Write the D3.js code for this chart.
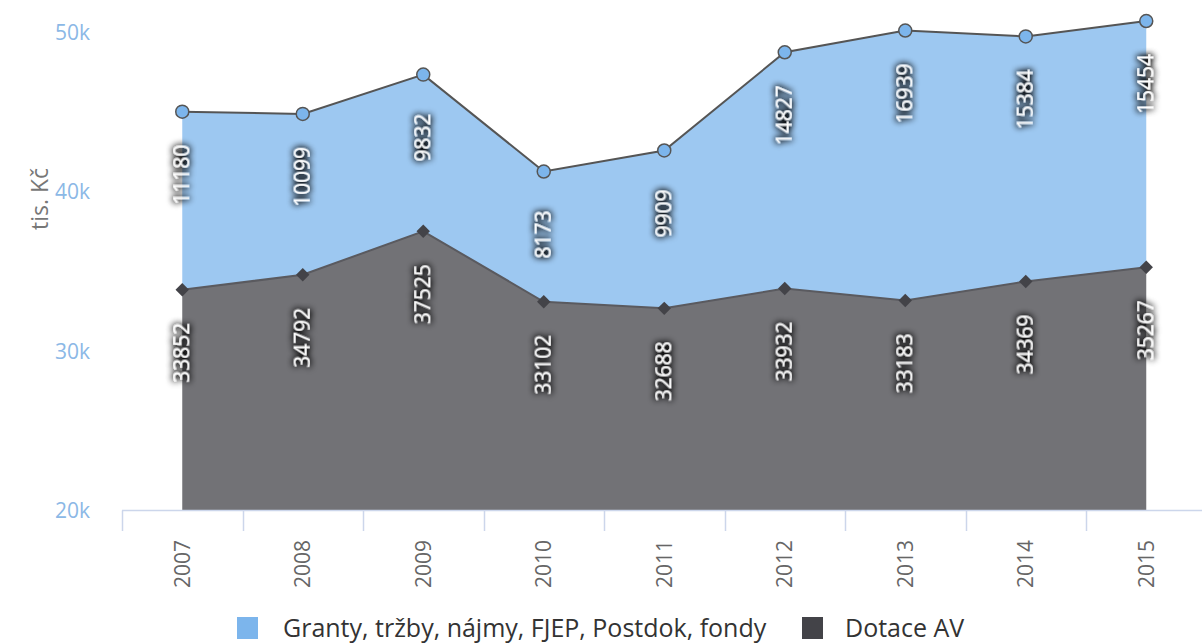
<!DOCTYPE html>
<html>
<head>
<meta charset="utf-8">
<script src="https://cdn.jsdelivr.net/npm/d3@7"></script>
<style>
  body { margin: 0; background: #fff; }
  svg { display: block; font-family: "Open Sans", sans-serif; }
</style>
</head>
<body>
<svg id="chart" width="1202" height="644"></svg>
<script>
const years = ["2007", "2008", "2009", "2010", "2011", "2012", "2013", "2014", "2015"];
const dotace = [33852, 34792, 37525, 33102, 32688, 33932, 33183, 34369, 35267];
const granty = [11180, 10099, 9832, 8173, 9909, 14827, 16939, 15384, 15454];
const yTicks = [20000, 30000, 40000, 50000];
const seriesNames = ["Granty, tržby, nájmy, FJEP, Postdok, fondy", "Dotace AV"];

const width = 1202, height = 644;
const svg = d3.select("#chart");

// soft dark glow behind the data labels
const defs = svg.append("defs");
const glow = defs.append("filter").attr("id", "shadow")
    .attr("x", "-50%").attr("y", "-50%").attr("width", "200%").attr("height", "200%");
glow.append("feGaussianBlur").attr("in", "SourceAlpha").attr("stdDeviation", 3.5).attr("result", "b");
glow.append("feComponentTransfer").attr("in", "b").attr("result", "c")
    .append("feFuncA").attr("type", "linear").attr("slope", 2.4);
const merge = glow.append("feMerge");
merge.append("feMergeNode").attr("in", "c");
merge.append("feMergeNode").attr("in", "SourceGraphic");

// Scales
const x = d3.scaleBand().domain(years).range([122, 1206.5]).padding(0);
const cx = d => x(d) + x.bandwidth() / 2;
const y = d3.scaleLinear().domain([20000, 50000]).range([510.5, 32.5]);

const rows = years.map((yr, i) => ({ year: yr, dotace: dotace[i], granty: granty[i] }));
const stacked = d3.stack().keys(["dotace", "granty"])(rows);

const area = d3.area()
    .x(d => cx(d.data.year))
    .y0(d => y(Math.max(d[0], 20000)))
    .y1(d => y(d[1]));
const line = d3.line()
    .x(d => cx(d.data.year))
    .y(d => y(d[1]));

const fills = { dotace: "#434348", granty: "#7cb5ec" };
const strokes = { dotace: "#5a5a5f", granty: "#555555" };

// areas
stacked.slice().reverse().forEach(s => {
    svg.append("path").datum(s)
        .attr("d", area)
        .attr("fill", fills[s.key])
        .attr("fill-opacity", 0.75);
});
stacked.forEach(s => {
    svg.append("path").datum(s)
        .attr("d", line)
        .attr("fill", "none")
        .attr("stroke", strokes[s.key])
        .attr("stroke-width", 2);
});

// x axis
svg.append("line")
    .attr("x1", 122).attr("x2", width)
    .attr("y1", 510.5).attr("y2", 510.5)
    .attr("stroke", "#ccd6eb").attr("stroke-width", 1.5);
svg.selectAll(".xtick").data(years).enter().append("line")
    .attr("x1", d => Math.round(x(d)) + 0.5).attr("x2", d => Math.round(x(d)) + 0.5)
    .attr("y1", 510.5).attr("y2", 531)
    .attr("stroke", "#ccd6eb").attr("stroke-width", 1.5);
svg.selectAll(".xlabel").data(years).enter().append("text")
    .attr("transform", d => `translate(${cx(d)},540) rotate(-90)`)
    .attr("text-anchor", "end")
    .attr("dy", "0.35em")
    .attr("font-size", 21)
    .attr("fill", "#666")
    .text(d => d);

// y axis labels
svg.selectAll(".ylabel").data(yTicks).enter().append("text")
    .attr("x", 90).attr("y", d => y(d))
    .attr("dy", "0.35em")
    .attr("text-anchor", "end")
    .attr("font-size", 21)
    .attr("fill", "#8bb8e6")
    .text(d => d3.format("d")(d / 1000) + "k");

svg.append("text")
    .attr("transform", "translate(40,199) rotate(-90)")
    .attr("text-anchor", "middle")
    .attr("dy", "0.35em")
    .attr("font-size", 23)
    .attr("fill", "#777")
    .text("tis. Kč");

// markers
const topSeries = stacked[1], baseSeries = stacked[0];
svg.selectAll(".dia").data(baseSeries).enter().append("path")
    .attr("d", d3.symbol().type(d3.symbolSquare).size(90))
    .attr("transform", d => `translate(${cx(d.data.year)},${y(d[1])}) rotate(45)`)
    .attr("fill", "#434348");
svg.selectAll(".dot").data(topSeries).enter().append("circle")
    .attr("cx", d => cx(d.data.year))
    .attr("cy", d => y(d[1]))
    .attr("r", 6.5)
    .attr("fill", "#7cb5ec")
    .attr("stroke", "#555")
    .attr("stroke-width", 1.5);

// data labels
function labels(s, key) {
    svg.selectAll(".lbl-" + key).data(s).enter().append("text")
        .attr("transform", d => `translate(${cx(d.data.year)},${y(d[1]) + 63}) rotate(-90)`)
        .attr("text-anchor", "middle")
        .attr("dy", "0.35em")
        .attr("font-size", 21)
        .attr("fill", "#fff")
        .attr("filter", "url(#shadow)")
        .text(d => d.data[key]);
}
labels(topSeries, "granty");
labels(baseSeries, "dotace");

// legend
const legend = svg.append("g");
legend.append("rect").attr("x", 237).attr("y", 617).attr("width", 21).attr("height", 22).attr("fill", "#7cb5ec");
legend.append("text").attr("x", 283).attr("y", 628).attr("dy", "0.35em")
    .attr("font-size", 25).attr("fill", "#333").text(seriesNames[0]);
legend.append("rect").attr("x", 802).attr("y", 617).attr("width", 21).attr("height", 22).attr("fill", "#434348");
legend.append("text").attr("x", 845).attr("y", 628).attr("dy", "0.35em")
    .attr("font-size", 25).attr("fill", "#333").text(seriesNames[1]);
</script>
</body>
</html>
